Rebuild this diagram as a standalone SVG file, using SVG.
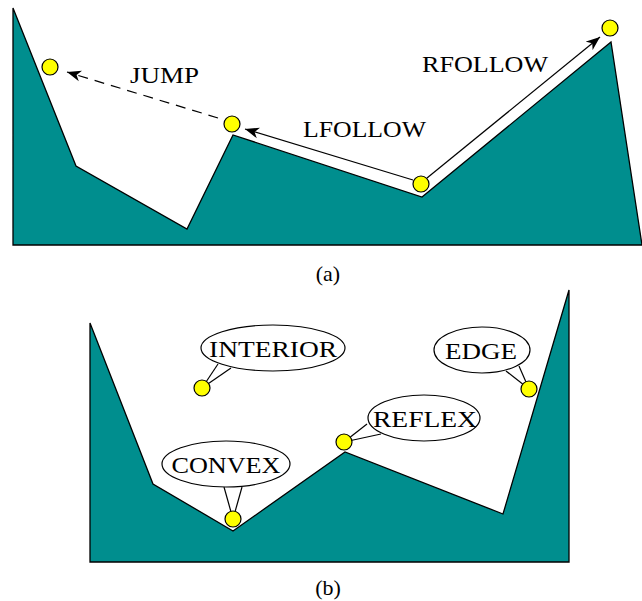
<svg xmlns="http://www.w3.org/2000/svg" width="642" height="601" viewBox="0 0 642 601">
<style>
.poly{fill:#008e8e;stroke:#000;stroke-width:1.3;stroke-linejoin:miter}
.pt{fill:#ffff00;stroke:#000;stroke-width:1.2}
.lbl{font-family:"Liberation Serif",serif;font-size:23px;fill:#000}
.cap{font-family:"Liberation Serif",serif;font-size:22px;fill:#000}
.bub{fill:#fff;stroke:#000;stroke-width:1.2}
.ptr{stroke:#000;stroke-width:1.2;fill:none}
.arr{stroke:#000;stroke-width:1.2;fill:none}
</style>
<defs>
<marker id="ah" viewBox="-14 -6 16 12" refX="0" refY="0" markerWidth="16" markerHeight="12" markerUnits="userSpaceOnUse" orient="auto">
<path d="M0,0 L-14,-5.5 L-10,0 L-14,5.5 Z" fill="#000"/>
</marker>
</defs>
<g id="panel-a">
<polygon class="poly" points="13,8 76,166 187,229 233,135 422,197 611,42 642,245 13,245"/>
</g>
<g id="connectors">
<line class="arr" x1="218" y1="118" x2="67" y2="72" stroke-dasharray="10,7" marker-end="url(#ah)"/>
<line class="arr" x1="413" y1="180" x2="245" y2="129" marker-end="url(#ah)"/>
<line class="arr" x1="427" y1="178" x2="600" y2="37" marker-end="url(#ah)"/>
<line class="ptr" x1="202" y1="388" x2="218" y2="364"/>
<line class="ptr" x1="202" y1="388" x2="231" y2="368"/>
<line class="ptr" x1="233" y1="519" x2="224" y2="487"/>
<line class="ptr" x1="233" y1="519" x2="242" y2="487"/>
<line class="ptr" x1="344" y1="442" x2="367" y2="424"/>
<line class="ptr" x1="344" y1="442" x2="381" y2="434"/>
<line class="ptr" x1="529" y1="389" x2="506" y2="371"/>
<line class="ptr" x1="529" y1="389" x2="519" y2="366"/>
</g>
<g id="pts-a">
<circle class="pt" cx="50" cy="67" r="8"/>
<circle class="pt" cx="232" cy="124" r="8"/>
<circle class="pt" cx="421" cy="184" r="8"/>
<circle class="pt" cx="610" cy="28" r="8"/>
</g>
<g id="labels-a">
<text class="lbl" x="130" y="83" textLength="69" lengthAdjust="spacingAndGlyphs">JUMP</text>
<text class="lbl" x="303" y="137" textLength="123" lengthAdjust="spacingAndGlyphs">LFOLLOW</text>
<text class="lbl" x="422" y="72" textLength="126" lengthAdjust="spacingAndGlyphs">RFOLLOW</text>
<text class="cap" x="328" y="281" text-anchor="middle">(a)</text>
</g>
<g id="panel-b">
<polygon class="poly" points="90,323 153,484 233,531 345,452 503,514 569,290 569,562 90,562"/>
</g>
<g id="node-interior">
<ellipse class="bub" cx="273" cy="348" rx="72" ry="23"/>
<text class="lbl" x="273" y="357" text-anchor="middle" textLength="128" lengthAdjust="spacingAndGlyphs">INTERIOR</text>
<circle class="pt" cx="202" cy="388" r="8"/>
</g>
<g id="node-convex">
<ellipse class="bub" cx="226" cy="464" rx="64" ry="23"/>
<text class="lbl" x="226" y="473" text-anchor="middle" textLength="109" lengthAdjust="spacingAndGlyphs">CONVEX</text>
<circle class="pt" cx="233" cy="519" r="8"/>
</g>
<g id="node-reflex">
<ellipse class="bub" cx="424" cy="418" rx="56" ry="23"/>
<text class="lbl" x="425" y="427" text-anchor="middle" textLength="104" lengthAdjust="spacingAndGlyphs">REFLEX</text>
<circle class="pt" cx="344" cy="442" r="8"/>
</g>
<g id="node-edge">
<ellipse class="bub" cx="482" cy="350" rx="48" ry="23"/>
<text class="lbl" x="481" y="359" text-anchor="middle" textLength="72" lengthAdjust="spacingAndGlyphs">EDGE</text>
<circle class="pt" cx="529" cy="389" r="8"/>
</g>
<text class="cap" x="328" y="595" text-anchor="middle">(b)</text>
</svg>
